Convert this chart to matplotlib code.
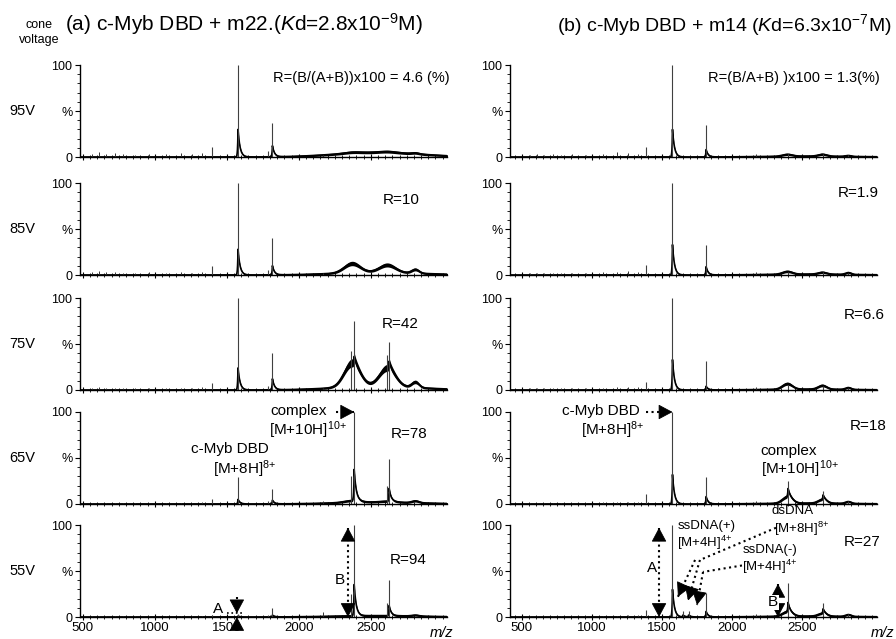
import numpy as np
import matplotlib.pyplot as plt
from matplotlib.ticker import MultipleLocator, FixedLocator

plt.rcParams['font.family'] = ['Liberation Sans', 'DejaVu Sans']
plt.rcParams['mathtext.fontset'] = 'custom'
plt.rcParams['mathtext.rm'] = 'Liberation Sans'
plt.rcParams['mathtext.it'] = 'Liberation Sans:italic'

voltages = ['95V', '85V', '75V', '65V', '55V']
mz_ticks = [500, 1000, 1500, 2000, 2500]

# (a) c-Myb DBD + m22 : peak m/z, thin peak tops (%), thick peak bases (%)
a_centers = [1400, 1578, 1786, 1817, 2365, 2385, 2612, 2628, 2808]
a_tops = [
    [11, 100, 6, 37, 0, 0, 0, 0, 0],
    [10, 100, 5, 40, 0, 0, 0, 0, 0],
    [8, 100, 4, 40, 42, 75, 38, 52, 0],
    [5, 29, 3, 16, 30, 100, 20, 49, 0],
    [2, 3, 2, 10, 25, 100, 15, 40, 0],
]
a_bases = [
    [0, 30, 0, 12, 0, 0, 0, 0, 0],
    [0, 28, 0, 10, 0, 0, 0, 0, 0],
    [0, 24, 0, 12, 0, 8, 0, 8, 0],
    [0, 5, 0, 4, 0, 34, 0, 14, 0],
    [0, 1, 0, 2, 0, 34, 0, 11, 0],
]
a_hump_centers = [2370, 2615, 2810, 2550]
a_hump_widths = [55, 55, 25, 300]
a_humps = [
    [1, 1, 1, 5],
    [10, 8, 4, 3],
    [26, 20, 6, 4],
    [2, 1, 2, 2],
    [0, 0, 1, 1.5],
]

# (b) c-Myb DBD + m14
b_centers = [1385, 1575, 1650, 1690, 1815, 2400, 2650, 2830]
b_tops = [
    [11, 100, 0, 0, 35, 3, 3, 2],
    [11, 100, 0, 0, 33, 3, 3, 2],
    [9, 100, 0, 0, 31, 5, 4, 2],
    [11, 100, 0, 0, 29, 25, 14, 3],
    [8, 100, 6, 6, 26, 37, 15, 3],
]
b_bases = [
    [0, 30, 0, 0, 8, 0, 0, 0],
    [0, 33, 0, 0, 9, 0, 0, 0],
    [0, 33, 0, 0, 4, 0, 0, 0],
    [0, 32, 0, 0, 8, 9, 5, 0],
    [0, 30, 2, 2, 6, 10, 5, 0],
]
b_hump_centers = [2395, 2645, 2830, 2550]
b_hump_widths = [35, 30, 20, 300]
b_humps = [
    [2, 2, 1, 1],
    [3, 2, 2, 1],
    [6, 4, 2, 1],
    [7, 4, 2, 1],
    [5, 3, 2, 1],
]

# small baseline spikes
minor_mz = [560, 610, 660, 720, 780, 860, 960, 1080, 1180, 1260, 1330, 2170]
a_minor = [
    [3, 5, 3, 4, 3, 2, 3, 3, 4, 3, 4, 2],
    [3, 4, 3, 3, 2, 2, 3, 2, 3, 2, 3, 2],
    [2, 3, 2, 2, 2, 2, 2, 2, 2, 2, 3, 2],
    [1, 1, 1, 1, 1, 1, 1, 1, 1, 1, 2, 3],
    [1, 1, 1, 1, 1, 1, 1, 1, 1, 1, 1, 5],
]
b_minor = [
    [2, 3, 2, 3, 2, 3, 2, 3, 5, 4, 3, 3],
    [2, 2, 2, 2, 2, 2, 2, 3, 3, 4, 3, 3],
    [2, 2, 2, 2, 2, 2, 2, 2, 3, 3, 3, 3],
    [1, 1, 1, 1, 1, 1, 1, 2, 2, 2, 2, 3],
    [1, 1, 1, 1, 1, 1, 1, 1, 1, 2, 2, 3],
]

mz = np.arange(400, 3100, 1.0)


def profile(centers, bases, hc, hw, hh):
    base = np.zeros_like(mz)
    for c, b in zip(centers, bases):
        d = mz - c
        base += np.where(d >= 0, b * np.exp(-np.clip(d, 0, None) / 14),
                         b * np.exp(np.clip(d, None, 0) / 3))
    hump = np.zeros_like(mz)
    for c, w, h in zip(hc, hw, hh):
        hump += h * np.exp(-0.5 * ((mz - c) / w) ** 2)
    return base, hump


def dotted_arrow(ax, start, tip, both=False):
    # dotted shaft, solid filled triangle head(s)
    ax.plot([start[0], tip[0]], [start[1], tip[1]], ls=':', color='black', lw=1.5,
            clip_on=False)
    head = dict(arrowstyle='-|>,head_length=0.75,head_width=0.4', lw=0.6,
                color='black', mutation_scale=12, shrinkA=0, shrinkB=0)
    ends = [(start, tip)] + ([(tip, start)] if both else [])
    for s, t in ends:
        # point a little back from the tip along the shaft, in pixels
        p0 = ax.transData.transform(s)
        p1 = ax.transData.transform(t)
        v = (p0 - p1) / np.hypot(*(p0 - p1))
        back = ax.transData.inverted().transform(p1 + v * 6)
        ax.annotate('', xy=t, xytext=back, arrowprops=head, annotation_clip=False)


W, H = 896, 639
fig = plt.figure(figsize=(W / 100, H / 100), dpi=100)
row_tops = [65, 183, 298, 412, 525]
panel_h = 92
col_left = [80, 510]
col_w = 367
col_xlim = [(480, 3030), (415, 3035)]

axes = {}
for col in range(2):
    if col == 0:
        centers, tops, bases = a_centers, a_tops, a_bases
        hc, hw, hh, minor = a_hump_centers, a_hump_widths, a_humps, a_minor
    else:
        centers, tops, bases = b_centers, b_tops, b_bases
        hc, hw, hh, minor = b_hump_centers, b_hump_widths, b_humps, b_minor
    for r in range(5):
        ax = fig.add_axes([col_left[col] / W, 1 - (row_tops[r] + panel_h) / H,
                           col_w / W, panel_h / H])
        axes[(col, r)] = ax
        base, hump = profile(centers, bases[r], hc, hw, hh[r])
        y = base + hump
        band = 0.9 + 0.12 * hump
        ax.fill_between(mz, y - band, y + band, color='black', lw=0)
        ax.plot(mz, y, color='black', lw=1.2)
        ax.vlines(centers, 0, tops[r], color='0.25', lw=0.8)
        ax.vlines(minor_mz, 0, minor[r], color='0.2', lw=0.7)
        ax.set_xlim(*col_xlim[col])
        ax.set_ylim(0, 100)
        for s in ['top', 'right']:
            ax.spines[s].set_visible(False)
        for s in ['left', 'bottom']:
            ax.spines[s].set_linewidth(1.0)
        ax.xaxis.set_major_locator(FixedLocator(mz_ticks))
        ax.xaxis.set_minor_locator(MultipleLocator(50))
        ax.yaxis.set_major_locator(FixedLocator([0, 50, 100]))
        ax.yaxis.set_minor_locator(MultipleLocator(10))
        ax.set_yticklabels(['0', '%', '100'])
        ax.tick_params(axis='x', which='major', direction='inout', length=5, width=0.8, labelsize=9.5, pad=1)
        ax.tick_params(axis='x', which='minor', direction='inout', length=3, width=0.6)
        ax.tick_params(axis='y', which='major', direction='out', length=3.5, width=0.8, labelsize=9, pad=2)
        ax.tick_params(axis='y', which='minor', direction='out', length=2, width=0.6)
        if r < 4:
            ax.set_xticklabels([])
        else:
            ax.text(0.985 if col == 0 else 1.015, -0.17, 'm/z', style='italic', fontsize=10.5,
                    ha='center', va='center', transform=ax.transAxes)
        if col == 0:
            fig.text(22 / W, 1 - (row_tops[r] + panel_h / 2) / H, voltages[r],
                     fontsize=10.5, ha='center', va='center')

# titles
fig.text(39 / W, 1 - 25 / H, 'cone', fontsize=9, ha='center', va='center')
fig.text(39 / W, 1 - 40 / H, 'voltage', fontsize=9, ha='center', va='center')
fig.text(65 / W, 1 - 24 / H, r'(a) c-Myb DBD + m22.($\it{K}$d=2.8x10$^{-9}$M)',
         fontsize=15, ha='left', va='center')
fig.text(724 / W, 1 - 25 / H, r'(b) c-Myb DBD + m14 ($\it{K}$d=6.3x10$^{-7}$M)',
         fontsize=14, ha='center', va='center')

# R values
fs_r = 11
axes[(0, 0)].text(3050, 86, 'R=(B/(A+B))x100 = 4.6 (%)', fontsize=10.5, ha='right', va='center')
axes[(1, 0)].text(3056, 86, 'R=(B/A+B) )x100 = 1.3(%)', fontsize=10.5, ha='right', va='center')
axes[(0, 1)].text(2710, 81, 'R=10', fontsize=fs_r, ha='center', va='center')
axes[(0, 2)].text(2703, 72, 'R=42', fontsize=fs_r, ha='center', va='center')
axes[(0, 3)].text(2766, 76, 'R=78', fontsize=fs_r, ha='center', va='center')
axes[(0, 4)].text(2760, 62, 'R=94', fontsize=fs_r, ha='center', va='center')
axes[(1, 1)].text(2900, 89, 'R=1.9', fontsize=fs_r, ha='center', va='center')
axes[(1, 2)].text(2945, 82, 'R=6.6', fontsize=fs_r, ha='center', va='center')
axes[(1, 3)].text(2970, 85, 'R=18', fontsize=fs_r, ha='center', va='center')
axes[(1, 4)].text(2928, 81, 'R=27', fontsize=fs_r, ha='center', va='center')

fs_a = 11

# (a) 65V labels
ax = axes[(0, 3)]
ax.text(1999, 101, 'complex', fontsize=fs_a, ha='center', va='center')
ax.text(1795, 80, r'[M+10H]$^{10{+}}$', fontsize=fs_a, ha='left', va='center')
dotted_arrow(ax, (2260, 100), (2385, 100))
ax.text(1522, 60, 'c-Myb DBD', fontsize=fs_a, ha='center', va='center')
ax.text(1404, 38, r'[M+8H]$^{8{+}}$', fontsize=fs_a, ha='left', va='center')

# (b) 65V labels
ax = axes[(1, 3)]
ax.text(1065, 101, 'c-Myb DBD', fontsize=fs_a, ha='center', va='center')
ax.text(1150, 80, r'[M+8H]$^{8{+}}$', fontsize=fs_a, ha='center', va='center')
dotted_arrow(ax, (1385, 100), (1575, 100))
ax.text(2407, 58, 'complex', fontsize=fs_a, ha='center', va='center')
ax.text(2485, 38, r'[M+10H]$^{10{+}}$', fontsize=fs_a, ha='center', va='center')

# (a) 55V A and B
ax = axes[(0, 4)]
dotted_arrow(ax, (2342, 97), (2342, 0), both=True)
ax.text(2287, 40, 'B', fontsize=fs_a, ha='center', va='center')
dotted_arrow(ax, (1570, 22), (1570, 4))
dotted_arrow(ax, (1570, -12), (1570, 0))
ax.plot([1500, 1615], [4, 4], ls=':', color='black', lw=1.2)
ax.text(1439, 9, 'A', fontsize=fs_a, ha='center', va='center')

# (b) 55V A, B and DNA labels
fs_d = 9.5
ax = axes[(1, 4)]
dotted_arrow(ax, (1479, 97), (1479, 0), both=True)
ax.text(1430, 53, 'A', fontsize=fs_a, ha='center', va='center')
dotted_arrow(ax, (2328, 36), (2328, 0), both=True)
ax.text(2292, 16, 'B', fontsize=fs_a, ha='center', va='center', zorder=5,
        bbox=dict(facecolor='white', edgecolor='none', pad=0.5))
ax.text(1821, 99, 'ssDNA(+)', fontsize=fs_d, ha='center', va='center')
ax.text(1807, 80, r'[M+4H]$^{4{+}}$', fontsize=fs_d, ha='center', va='center')
ax.text(2435, 115, 'dsDNA', fontsize=fs_d, ha='center', va='center')
ax.text(2500, 96, r'[M+8H]$^{8{+}}$', fontsize=fs_d, ha='center', va='center')
ax.text(2271, 73, 'ssDNA(-)', fontsize=fs_d, ha='center', va='center')
ax.text(2269, 55, r'[M+4H]$^{4{+}}$', fontsize=fs_d, ha='center', va='center')
dotted_arrow(ax, (1736, 62), (1614, 22))
ax.plot([2314, 1771], [97, 62], ls=':', color='black', lw=1.5)
dotted_arrow(ax, (1771, 62), (1686, 18))
ax.plot([2071, 1793], [56, 49], ls=':', color='black', lw=1.5)
dotted_arrow(ax, (1793, 49), (1750, 13))

fig.savefig('out.png', dpi=100)
